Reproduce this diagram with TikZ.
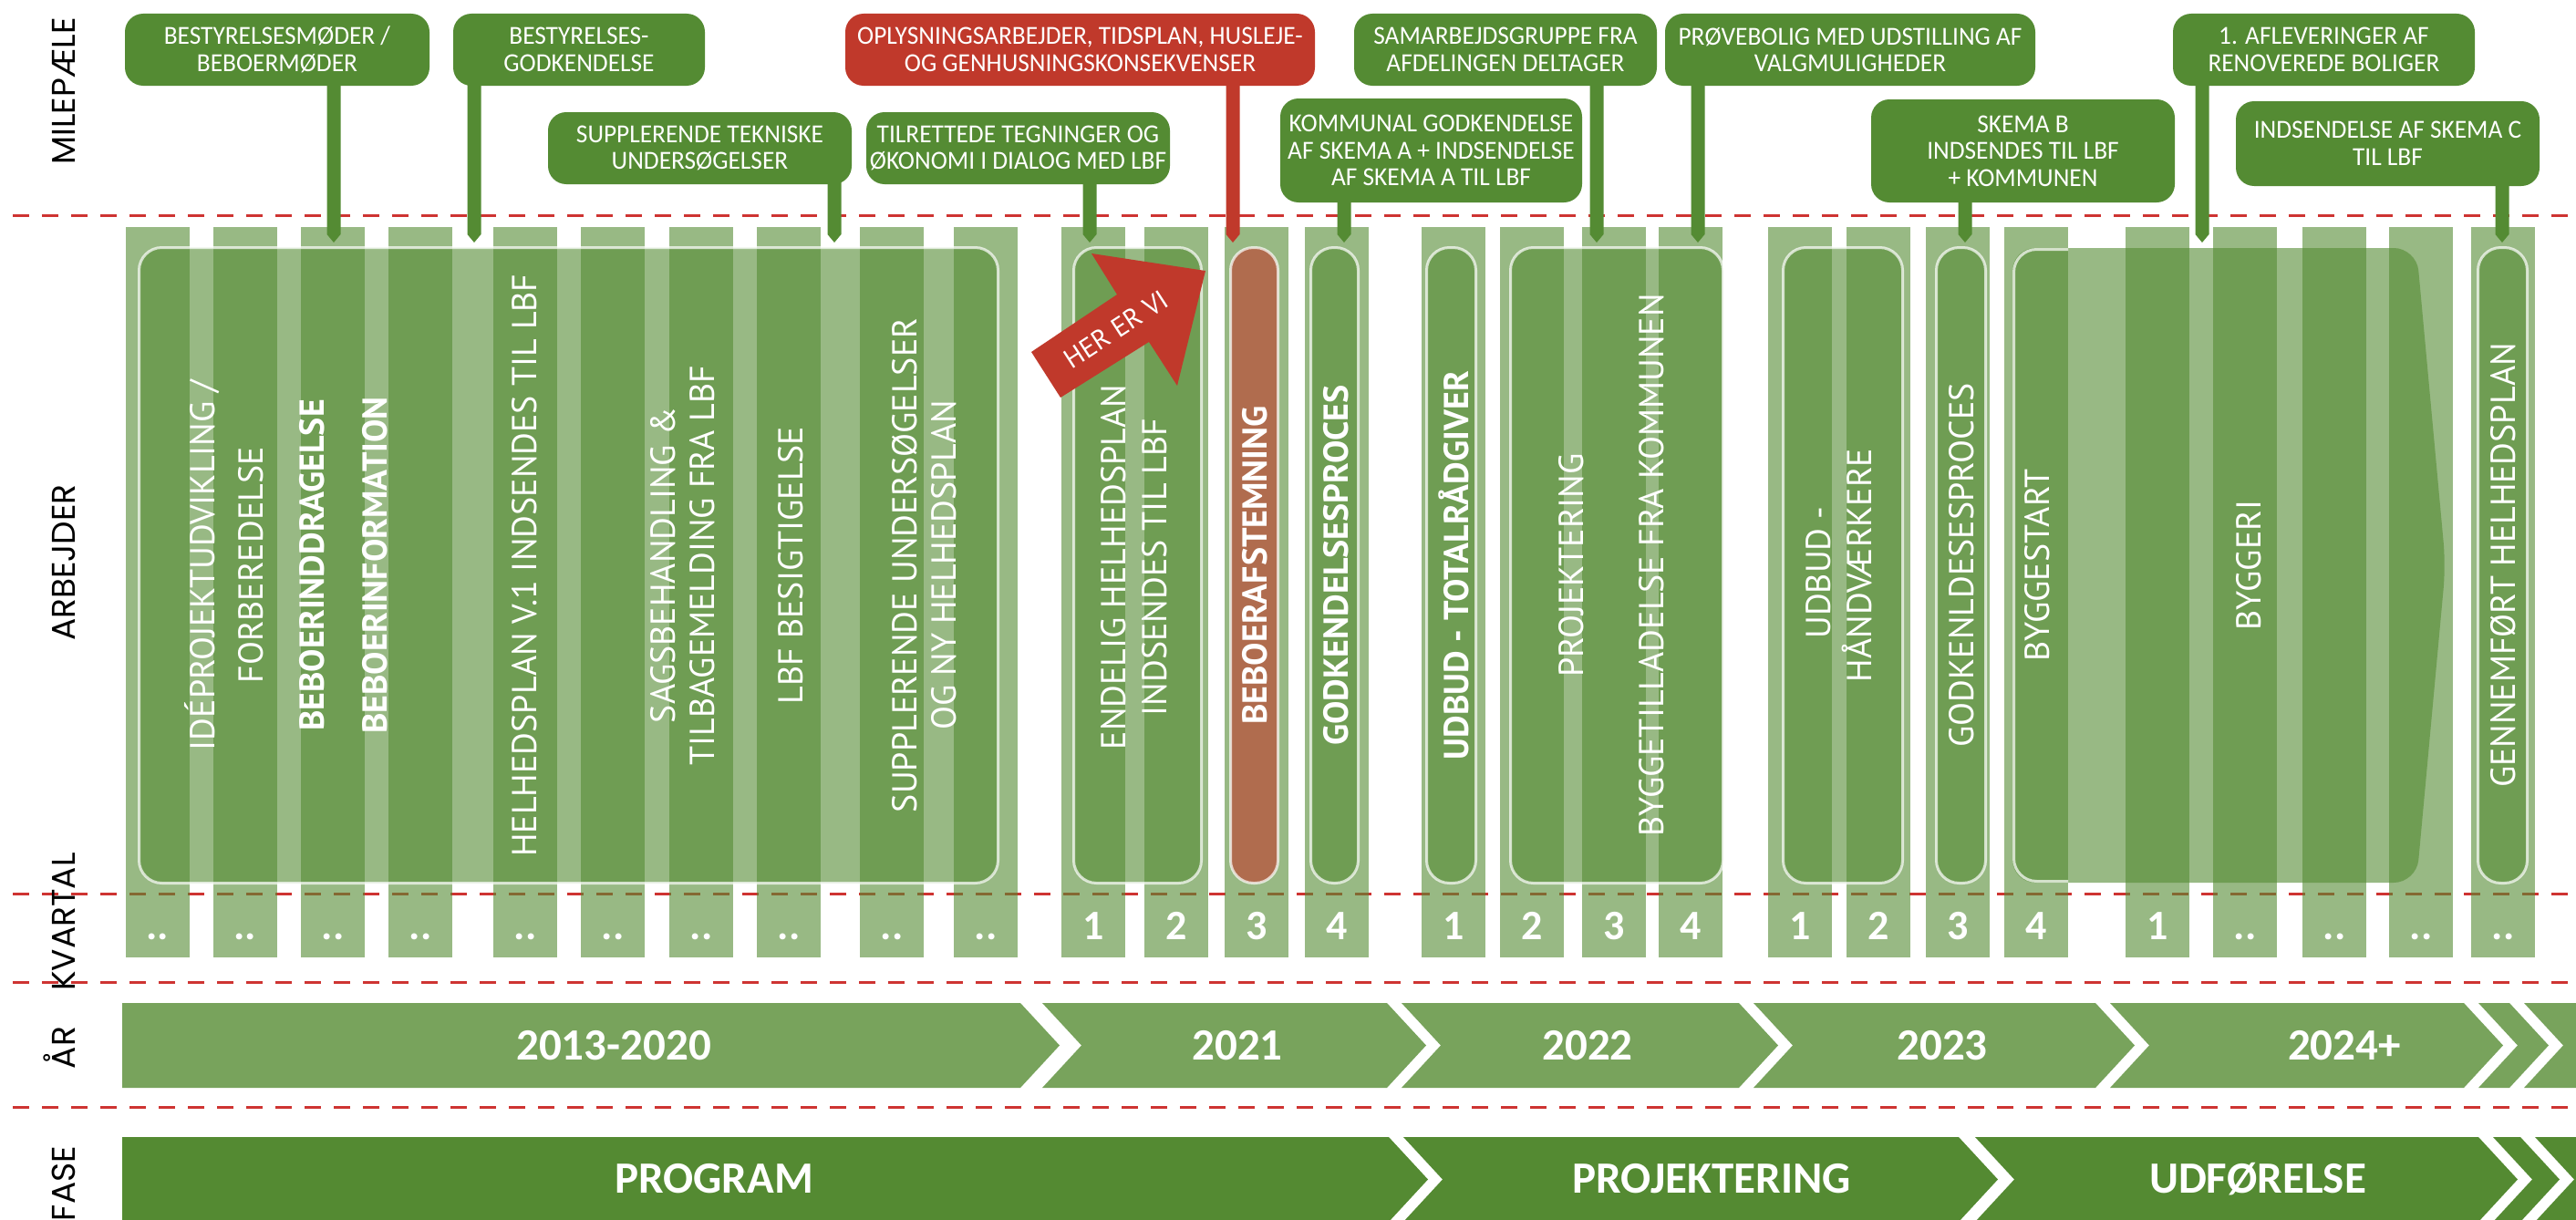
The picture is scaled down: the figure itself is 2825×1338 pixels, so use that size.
\documentclass[tikz,border=0pt]{standalone}
\usepackage{fontspec}
\setmainfont{PT Sans}
\newfontfamily\condfont{Carlito}
\newfontfamily\mfont[FakeStretch=0.96]{Carlito}
\newfontfamily\sidefont{Poppins}
\usetikzlibrary{calc}

\definecolor{mgreen}{RGB}{84,139,51}
\definecolor{mred}{RGB}{192,57,43}
\definecolor{yeargreen}{RGB}{120,163,92}
\definecolor{phasegreen}{RGB}{84,138,50}
\definecolor{dashred}{RGB}{206,52,50}

\tikzset{
  sep/.style={draw=dashred, line width=3pt, dash pattern=on 18pt off 14pt},
  strip/.style={fill=mgreen, fill opacity=0.6},
  ibox/.style={fill=#1, fill opacity=0.6, draw=white, draw opacity=0.7,
               line width=3pt, rounded corners=25pt},
  coltext/.style={text=white, rotate=90, inner sep=0pt,
                  font=\fontsize{38}{44}\selectfont, text height=26.6pt, text depth=0pt},
  colbold/.style={coltext, font=\fontsize{38}{44}\selectfont\bfseries},
  mbox/.style={rectangle, rounded corners=20pt, fill=#1, text=white, inner sep=0pt,
               align=center, font=\mfont\fontsize{28.5}{29.5}\selectfont},
  qlabel/.style={anchor=base, text=white, inner sep=0pt,
                 font=\condfont\bfseries\fontsize{46}{46}\selectfont},
  bandtext/.style={text=white, inner sep=0pt,
                   font=\condfont\bfseries\fontsize{49}{49}\selectfont},
  sidelabel/.style={rotate=90, inner sep=0pt, text=black,
                    font=\sidefont\fontsize{36}{36}\selectfont, text height=25pt, text depth=0pt},
  herevi/.style={rotate=33, text=white, inner sep=0pt, font=\fontsize{30}{30}\selectfont},
}

% stem from a milestone box down to the work row: box name, x position, colour
\newcommand{\milestem}[3]{%
  \coordinate (#1-end) at (#2,266);
  \fill[#3] ($(#1.south -| #1-end)+(-7.5,-12)$) -- ($(#1.south -| #1-end)+(7.5,-12)$)
    -- ($(#1-end)+(7.5,-9)$) -- (#1-end) -- ($(#1-end)+(-7.5,-9)$) -- cycle;}

% chevron band: style, left x, right x, top y, bottom y, depth
\newcommand{\chevron}[6]{%
  \fill[#1] (#2,#4) -- (#3,#4) -- ({#3+#6},{(#4+#5)/2}) -- (#3,#5) -- (#2,#5)
    -- ({#2+#6},{(#4+#5)/2}) -- cycle;}

\begin{document}
\begin{tikzpicture}[x=1pt,y=-1pt]
\useasboundingbox (0,0) rectangle (2825,1338);
\fill[white] (0,0) rectangle (2825,1338);
\clip (0,0) rectangle (2825,1338);

% row separators
\foreach \y in {236,980,1077,1214}
  \draw[sep] (14,\y) -- (2825,\y);

% quarter strips with their labels
\foreach \x/\q [count=\i] in {138/..,234/..,330/..,426/..,541/..,637/..,734/..,830/..,943/..,1046/..,
    1164/1,1255/2,1343/3,1431/4,1559/1,1645/2,1735/3,1819/4,1939/1,2025/2,2112/3,2198/4,
    2331/1,2427/..,2525/..,2620/..,2710/..} {
  \fill[strip] (\x,249) rectangle ++(70,801);
  \node[qlabel] (q\i) at (\x+35,1030) {\q};
}

% work boxes
\path[ibox=mgreen] (152.5,271.5) rectangle (1094.5,968.5);
\path[ibox=mgreen] (1177.5,271.5) rectangle (1317.5,968.5);
\path[ibox=mred]   (1349.5,271.5) rectangle (1401.5,968.5);
\path[ibox=mgreen] (1437.5,271.5) rectangle (1489.5,968.5);
\path[ibox=mgreen] (1564.5,271.5) rectangle (1618.5,968.5);
\path[ibox=mgreen] (1656.5,271.5) rectangle (1889.5,968.5);
\path[ibox=mgreen] (1955.5,271.5) rectangle (2086.5,968.5);
\path[ibox=mgreen] (2123.5,271.5) rectangle (2177.5,968.5);
\path[ibox=mgreen] (2717.5,271.5) rectangle (2771.5,968.5);
% construction arrow
\fill[mgreen, fill opacity=0.6, rounded corners=25pt]
  (2682,620) -- (2650,272) -- (2207,272) -- (2207,968) -- (2650,968) -- cycle;
\draw[white, draw opacity=0.7, line width=3pt, rounded corners=25pt]
  (2268,273.5) -- (2208.5,273.5) -- (2208.5,966.5) -- (2268,966.5);

% work texts
\node[coltext] (w1)  at (222,620)  {IDÉPROJEKTUDVIKLING /};
\node[coltext] (w2)  at (275,620)  {FORBEREDELSE};
\node[colbold] (w3)  at (342,620)  {BEBOERINDDRAGELSE};
\node[colbold] (w4)  at (411,620)  {BEBOERINFORMATION};
\node[coltext] (w5)  at (575,620)  {HELHEDSPLAN V.1 INDSENDES TIL LBF};
\node[coltext] (w6)  at (727,620)  {SAGSBEHANDLING \&};
\node[coltext] (w7)  at (770,620)  {TILBAGEMELDING FRA LBF};
\node[coltext] (w8)  at (867,620)  {LBF BESIGTIGELSE};
\node[coltext] (w9)  at (992,620)  {SUPPLERENDE UNDERSØGELSER};
\node[coltext] (w10) at (1035,620) {OG NY HELHEDSPLAN};
\node[coltext] (w11) at (1221,622) {ENDELIG HELHEDSPLAN};
\node[coltext] (w12) at (1266,622) {INDSENDES TIL LBF};
\node[colbold] (w13) at (1376,620) {BEBOERAFSTEMNING};
\node[colbold] (w14) at (1465,620) {GODKENDELSESPROCES};
\node[colbold] (w15) at (1597,620) {UDBUD - TOTALRÅDGIVER};
\node[coltext] (w16) at (1723,620) {PROJEKTERING};
\node[coltext] (w17) at (1811,620) {BYGGETILLADELSE FRA KOMMUNEN};
\node[coltext] (w18) at (1994,628) {UDBUD -};
\node[coltext] (w19) at (2039,620) {HÅNDVÆRKERE};
\node[coltext] (w20) at (2151,620) {GODKENLDESESPROCES};
\node[coltext] (w21) at (2234,620) {BYGGESTART};
\node[coltext] (w22) at (2466,620) {BYGGERI};
\node[coltext] (w23) at (2745,620) {GENNEMFØRT HELHEDSPLAN};

% milestones
\node[mbox=mgreen, minimum width=334pt, minimum height=79pt] (m1) at (304,54.5)
  {BESTYRELSESMØDER /\\BEBOERMØDER};
\node[mbox=mgreen, minimum width=276pt, minimum height=79pt] (m2) at (635,54.5)
  {BESTYRELSES-\\GODKENDELSE};
\node[mbox=mgreen, minimum width=333pt, minimum height=79pt] (m3) at (767.5,162.5)
  {SUPPLERENDE TEKNISKE\\UNDERSØGELSER};
\node[mbox=mred, minimum width=515pt, minimum height=79pt] (m4) at (1184.5,54.5)
  {OPLYSNINGSARBEJDER, TIDSPLAN, HUSLEJE-\\OG GENHUSNINGSKONSEKVENSER};
\node[mbox=mgreen, minimum width=333pt, minimum height=79pt] (m5) at (1116.5,162.5)
  {TILRETTEDE TEGNINGER OG\\ØKONOMI I DIALOG MED LBF};
\node[mbox=mgreen, minimum width=331pt, minimum height=114pt] (m6) at (1569.5,165)
  {KOMMUNAL GODKENDELSE\\AF SKEMA A + INDSENDELSE\\AF SKEMA A TIL LBF};
\node[mbox=mgreen, minimum width=332pt, minimum height=79pt] (m7) at (1651,54.5)
  {SAMARBEJDSGRUPPE FRA\\AFDELINGEN DELTAGER};
\node[mbox=mgreen, minimum width=406pt, minimum height=79pt] (m8) at (2029,54.5)
  {PRØVEBOLIG MED UDSTILLING AF\\VALGMULIGHEDER};
\node[mbox=mgreen, minimum width=333pt, minimum height=113pt] (m9) at (2218.5,165.5)
  {SKEMA B\\INDSENDES TIL LBF\\+ KOMMUNEN};
\node[mbox=mgreen, minimum width=331pt, minimum height=79pt] (m10) at (2548.5,54.5)
  {1. AFLEVERINGER AF\\RENOVEREDE BOLIGER};
\node[mbox=mgreen, minimum width=333pt, minimum height=93pt] (m11) at (2618.5,157.5)
  {INDSENDELSE AF SKEMA C\\TIL LBF};

\milestem{m1}{366}{mgreen}
\milestem{m2}{520}{mgreen}
\milestem{m3}{915}{mgreen}
\milestem{m4}{1352}{mred}
\milestem{m5}{1195}{mgreen}
\milestem{m6}{1474}{mgreen}
\milestem{m7}{1751}{mgreen}
\milestem{m8}{1862}{mgreen}
\milestem{m9}{2155}{mgreen}
\milestem{m10}{2415}{mgreen}
\milestem{m11}{2744}{mgreen}

% current position marker
\fill[mred] (1131,386) -- (1225,323) -- (1197,278) -- (1322,297) -- (1291,423)
  -- (1260,375) -- (1163,436) -- cycle;
\node[herevi] (here) at (1224,361) {HER ER VI};

% years
\fill[yeargreen] (134,1100) -- (1119,1100) -- (1162,1146.5) -- (1119,1193) -- (134,1193) -- cycle;
\chevron{yeargreen}{1143}{1521}{1100}{1193}{43}
\chevron{yeargreen}{1537}{1907}{1100}{1193}{43}
\chevron{yeargreen}{1923}{2298}{1100}{1193}{43}
\chevron{yeargreen}{2314}{2702}{1100}{1193}{43}
\chevron{yeargreen}{2718}{2752}{1100}{1193}{43}
\chevron{yeargreen}{2768}{2860}{1100}{1193}{43}
\node[bandtext] (y1) at (673,1147)  {2013-2020};
\node[bandtext] (y2) at (1357,1147) {2021};
\node[bandtext] (y3) at (1741,1147) {2022};
\node[bandtext] (y4) at (2130,1147) {2023};
\node[bandtext] (y5) at (2571,1147) {2024+};

% phases
\fill[phasegreen] (134,1247) -- (1523,1247) -- (1566,1293.5) -- (1523,1340) -- (134,1340) -- cycle;
\chevron{phasegreen}{1539}{2148}{1247}{1340}{43}
\chevron{phasegreen}{2166}{2718}{1247}{1340}{43}
\chevron{phasegreen}{2734}{2764}{1247}{1340}{43}
\chevron{phasegreen}{2780}{2860}{1247}{1340}{43}
\node[bandtext] (p1) at (783,1293)  {PROGRAM};
\node[bandtext] (p2) at (1877,1293) {PROJEKTERING};
\node[bandtext] (p3) at (2476,1293) {UDFØRELSE};

% row titles
\node[sidelabel] (s1) at (70,100)  {MILEPÆLE};
\node[sidelabel] (s2) at (70,617)  {ARBEJDER};
\node[sidelabel] (s3) at (70,1011) {KVARTAL};
\node[sidelabel] (s4) at (70,1149) {ÅR};
\node[sidelabel] (s5) at (70,1298) {FASE};
\end{tikzpicture}
\end{document}
